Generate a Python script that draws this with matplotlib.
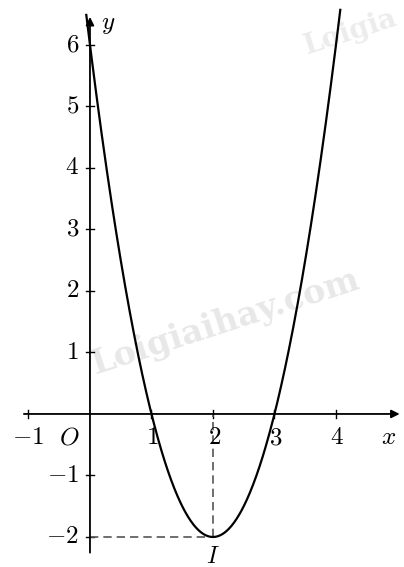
import numpy as np
import matplotlib.pyplot as plt

plt.rcParams['mathtext.fontset'] = 'cm'
plt.rcParams['font.family'] = 'serif'

# y = 2x^2 - 8x + 6, vertex I(2, -2)
a, b, c = 2, -8, 6
x_ticks = [-1, 1, 2, 3, 4]
y_ticks = [-2, -1, 1, 2, 3, 4, 5, 6]
vertex = (2, -2)
x_range = (-0.06, 4.07)

fig = plt.figure(figsize=(4.04, 5.67), dpi=100)
ax = fig.add_axes([0, 0, 1, 1])
ax.set_xlim(-1.463, 5.106)
ax.set_ylim(-2.488, 6.73)
ax.axis('off')

# watermark
ax.text(2.2, 1.5, 'Loigiaihay.com', fontsize=24, fontweight='bold', family='DejaVu Serif',
        color='#e8e8e8', rotation=18, ha='center', va='center', zorder=0)
ax.text(5.05, 6.2, 'Loigia', fontsize=20, fontweight='bold', family='DejaVu Serif',
        color='#ececec', rotation=18, ha='right', va='center', zorder=0)

# axes with arrows
arrow = dict(arrowstyle='-|>', color='black', lw=1.3, mutation_scale=12)
ax.annotate('', xy=(5.08, 0), xytext=(-1.12, 0), arrowprops=arrow, annotation_clip=False)
ax.annotate('', xy=(0, 6.5), xytext=(0, -2.3), arrowprops=arrow, annotation_clip=False)

tx = 0.06
ty = 0.06
for t in x_ticks:
    ax.plot([t, t], [-ty, ty], color='black', lw=1)
for t in y_ticks:
    ax.plot([-tx, tx], [t, t], color='black', lw=1)

fs = 18
for t in x_ticks:
    label = '$%d$' % t if t > 0 else '$-1$'
    ax.text(t + (0.02 if t > 0 else 0), -0.2, label, fontsize=fs, ha='center', va='top')
ax.text(-0.34, -0.2, '$O$', fontsize=fs, ha='center', va='top')
for t in y_ticks:
    label = '$%d$' % t if t > 0 else '$-%d$' % -t
    ax.text(-0.18, t, label, fontsize=fs, ha='right', va='center')
ax.text(4.85, -0.2, '$x$', fontsize=fs, ha='center', va='top')
ax.text(0.3, 6.33, '$y$', fontsize=fs, ha='center', va='center')
ax.text(vertex[0], -2.13, '$I$', fontsize=17, ha='center', va='top')

# dashed guides to the vertex
ax.plot([0, vertex[0]], [vertex[1], vertex[1]], ls=(0, (5, 3)), color='#555555', lw=1.2)
ax.plot([vertex[0], vertex[0]], [vertex[1], 0], ls=(0, (5, 3)), color='#555555', lw=1.2)

xs = np.linspace(x_range[0], x_range[1], 400)
ax.plot(xs, a * xs**2 + b * xs + c, color='black', lw=1.6)

fig.savefig('out.png', dpi=100)
